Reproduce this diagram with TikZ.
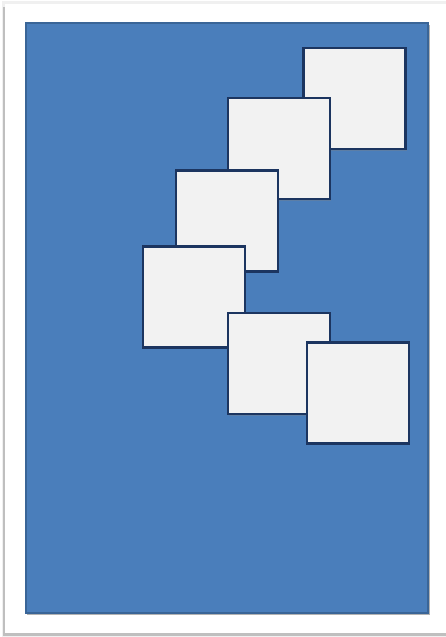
\documentclass[tikz,border=0pt]{standalone}
\usepackage{xcolor}
\usepackage{tikz}
\usetikzlibrary{shadows}
\definecolor{slideblue}{HTML}{4A7EBB}
\definecolor{slideedge}{HTML}{3A6597}
\definecolor{cardgray}{HTML}{F2F2F2}
\definecolor{cardedge}{HTML}{1C3560}

\begin{document}
\begin{tikzpicture}[x=1pt, y=-1pt,
    card/.style={fill=cardgray, draw=cardedge, line width=2.6pt,
      minimum width=102pt, minimum height=101pt, inner sep=0pt, outer sep=0pt,
      drop shadow={opacity=0.35, shadow xshift=1pt, shadow yshift=-1.5pt}}]
  \useasboundingbox (0,0) rectangle (446,637);
  % page with its shadow
  \fill[black!6] (2,1) rectangle (446,637);
  \fill[black!25] (3,7) rectangle (446,636);
  \fill[white] (5,4) rectangle (446,633);
  % blue slide
  \fill[black!30] (27,25) rectangle (430,615);
  \draw[fill=slideblue, draw=slideedge, line width=1.5pt] (26,23) rectangle (428,613);
  % cards, back to front
  \node[card] (cardA) at (354.5,98.5) {};
  \node[card] (cardB) at (279,148.5) {};
  \node[card] (cardC) at (227,221) {};
  \node[card] (cardD) at (194,297) {};
  \node[card] (cardE) at (279,363.5) {};
  \node[card] (cardF) at (358,393) {};
\end{tikzpicture}
\end{document}
